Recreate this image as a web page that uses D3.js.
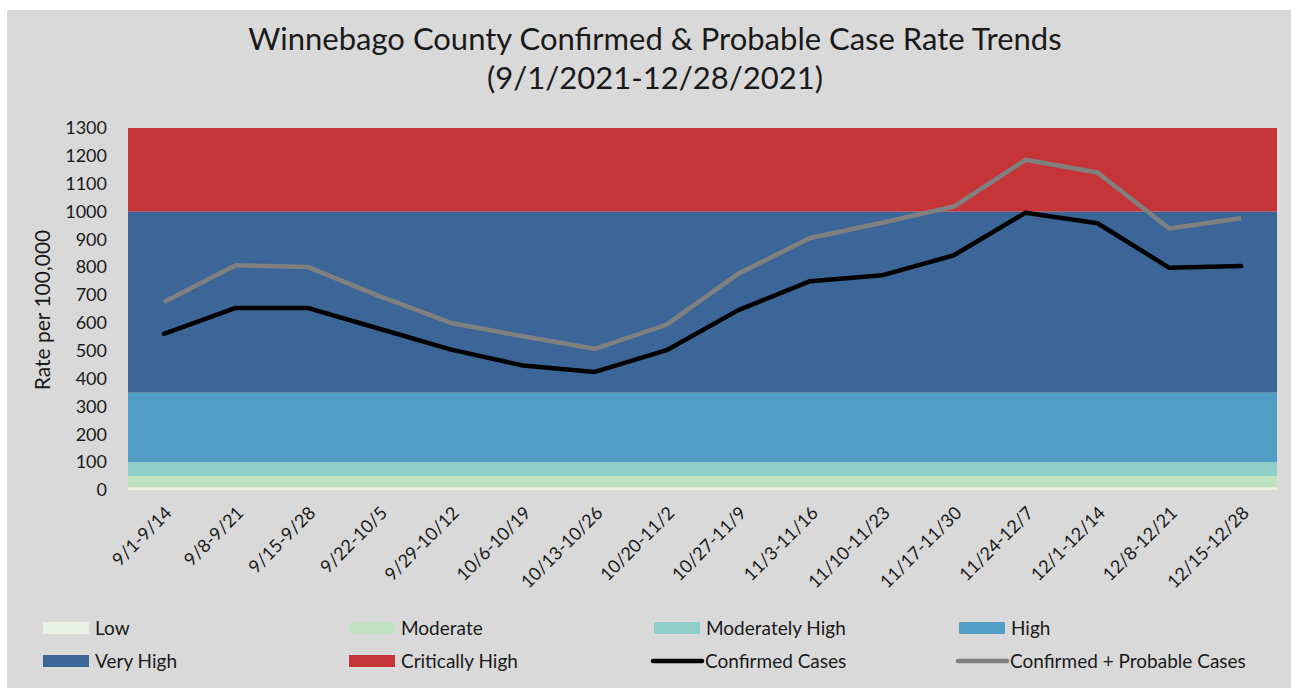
<!DOCTYPE html>
<html>
<head>
<meta charset="utf-8">
<script src="https://cdn.jsdelivr.net/npm/d3@7"></script>
<style>
  body { margin: 0; background: #fff; }
  text { font-family: Lato, "Open Sans", sans-serif; fill: #1a1a1a; }
</style>
</head>
<body>
<svg id="chart" width="1291" height="690"></svg>
<script>
// week ranges on the x axis
const weeks = ["9/1-9/14", "9/8-9/21", "9/15-9/28", "9/22-10/5", "9/29-10/12", "10/6-10/19",
  "10/13-10/26", "10/20-11/2", "10/27-11/9", "11/3-11/16", "11/10-11/23", "11/17-11/30",
  "11/24-12/7", "12/1-12/14", "12/8-12/21", "12/15-12/28"];

// rate per 100,000
const confirmed = [561, 654, 654, 579, 504, 447, 424, 502, 646, 750, 771, 843, 996, 958, 798, 804];
const confirmedProbable = [675, 807, 801, 696, 600, 552, 507, 594, 777, 905, 960, 1018, 1186, 1140, 939, 976];

// activity level bands
const bandNames = ["Low", "Moderate", "Moderately High", "High", "Very High", "Critically High"];
const bandFrom = [0, 10, 50, 100, 350, 1000];
const bandTo = [10, 50, 100, 350, 1000, 1300];
const bandColors = ["#e9f1e4", "#c1e2c1", "#90cec8", "#529ec7", "#3c6698", "#c53538"];

const yTicks = d3.range(0, 1301, 100);

const svg = d3.select("#chart");

// grey chart area
svg.append("rect").attr("x", 7).attr("y", 10).attr("width", 1284).attr("height", 678).attr("fill", "#d9d9d9");

const x = d3.scaleBand().domain(weeks).range([128, 1277]);
const y = d3.scaleLinear().domain([0, 1300]).range([490, 128]);

// bands
svg.append("g").selectAll("rect")
  .data(bandNames)
  .join("rect")
  .attr("x", 128)
  .attr("width", 1277 - 128)
  .attr("y", (d, i) => y(bandTo[i]))
  .attr("height", (d, i) => y(bandFrom[i]) - y(bandTo[i]))
  .attr("fill", (d, i) => bandColors[i]);

// y axis
const yAxis = svg.append("g")
  .attr("transform", "translate(128,0)")
  .call(d3.axisLeft(y).tickValues(yTicks).tickFormat(d3.format("d")).tickSize(0).tickPadding(21));
yAxis.select(".domain").remove();
yAxis.selectAll("text").style("font-size", "18px").style("font-family", "Lato, sans-serif").attr("fill", "#1a1a1a");

svg.append("text")
  .attr("transform", "translate(50,310) rotate(-90)")
  .attr("text-anchor", "middle")
  .style("font-size", "21px")
  .text("Rate per 100,000");

// x axis
const xAxis = svg.append("g")
  .attr("transform", "translate(0,490)")
  .call(d3.axisBottom(x).tickSize(0).tickPadding(0));
xAxis.select(".domain").remove();
xAxis.selectAll("text")
  .style("font-size", "18px")
  .style("font-family", "Lato, sans-serif")
  .attr("fill", "#1a1a1a")
  .attr("text-anchor", "end")
  .attr("dy", null)
  .attr("y", 0)
  .attr("transform", "translate(9,24) rotate(-45)");

// lines
const line = d3.line()
  .x((d, i) => x(weeks[i]) + x.bandwidth() / 2)
  .y(d => y(d));

svg.append("path")
  .datum(confirmedProbable)
  .attr("fill", "none")
  .attr("stroke", "#808080")
  .attr("stroke-width", 4.5)
  .attr("stroke-linejoin", "round")
  .attr("d", line);

svg.append("path")
  .datum(confirmed)
  .attr("fill", "none")
  .attr("stroke", "#000")
  .attr("stroke-width", 4.5)
  .attr("stroke-linejoin", "round")
  .attr("stroke-linecap", "round")
  .attr("d", line);

// title
svg.append("text").attr("x", 655).attr("y", 50).attr("text-anchor", "middle")
  .style("font-size", "31px").text("Winnebago County Confirmed & Probable Case Rate Trends");
svg.append("text").attr("x", 655).attr("y", 89).attr("text-anchor", "middle")
  .style("font-size", "31px").text("(9/1/2021-12/28/2021)");

// legend
const legendItems = bandNames.map((n, i) => ({ name: n, color: bandColors[i], type: "box" }))
  .concat([
    { name: "Confirmed Cases", color: "#000", type: "line" },
    { name: "Confirmed + Probable Cases", color: "#808080", type: "line" }
  ]);
const colX = [43, 349, 654, 959];
const rowY = [628, 661];

const leg = svg.append("g").selectAll("g")
  .data(legendItems)
  .join("g")
  .attr("transform", (d, i) => `translate(${colX[i % 4]},${rowY[Math.floor(i / 4)]})`);

leg.filter(d => d.type === "box").append("rect")
  .attr("x", 0).attr("y", -6).attr("width", 46).attr("height", 12)
  .attr("fill", d => d.color);
leg.filter(d => d.type === "line").append("line")
  .attr("x1", -1).attr("x2", 48).attr("y1", 0).attr("y2", 0)
  .attr("stroke", d => d.color).attr("stroke-width", 4.5).attr("stroke-linecap", "round");
leg.append("text")
  .attr("x", (d) => d.type === "box" ? 52 : 51)
  .attr("y", 0)
  .attr("dy", "0.35em")
  .style("font-size", "19px")
  .text(d => d.name);
</script>
</body>
</html>
